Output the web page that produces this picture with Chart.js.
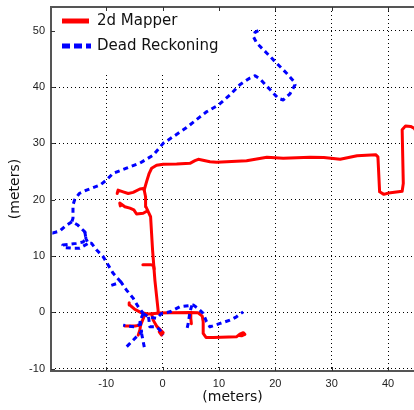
<!DOCTYPE html>
<html lang="en">
<head>
  <meta charset="UTF-8" />
  <title>2d Mapper vs Dead Reckoning</title>
  <script src="https://cdn.jsdelivr.net/npm/chart.js"></script>
  <style>
    html, body { margin: 0; padding: 0; background: #fff; }
    #wrap { width: 414px; height: 410px; position: relative; }
  </style>
</head>
<body>
  <div id="wrap"><canvas id="trackChart"></canvas></div>

  <script>
    // ==== DATA (meters) ====
    const xTicks = [-10, 0, 10, 20, 30, 40];
    const yTicks = [-10, 0, 10, 20, 30, 40, 50];

    // 2d Mapper path pieces
    const mapperEast = [[-0.8,-0.1],[1.3,-0.07],[4.9,0],[6.3,-0.07],[7.03,-0.66],[7.2,-1.67],[7.2,-3.73],[7.7,-4.44],[9.0,-4.44],[13.1,-4.33],[13.7,-3.85],[14.3,-3.6],[14.6,-3.9],[14.0,-4.15],[13.6,-4.1]];
    const mapperNorth = [[-0.8,-0.1],[-0.8,0.4],[-1.37,5.74],[-1.78,11.07],[-2.13,16.98],[-2.56,17.87],[-2.97,18.76],[-3.02,20.53],[-3.27,21.72],[-2.84,23.2],[-2.38,24.69],[-1.95,25.58],[-1.07,26.11],[0.11,26.29],[2.49,26.34],[4.85,26.46],[5.74,26.93],[6.33,27.17],[8.4,26.75],[9.6,26.64],[14.9,26.93],[18.5,27.53],[21.4,27.35],[26.2,27.53],[28.6,27.5],[31.5,27.17],[34.5,27.8],[37.8,28.0],[38.2,27.6],[38.5,21.4],[39.25,20.95],[40.1,21.2],[42.5,21.5],[42.7,22.9],[42.5,32.4],[43.1,33.1],[44.0,33.0],[44.6,32.7],[45.5,31.5]];
    const mapperUpperLoop = [[-3.27,21.72],[-3.44,22.0],[-4.03,21.9],[-5.22,21.3],[-6.1,21.1],[-7.0,21.4],[-7.9,21.7],[-8.06,21.1]];
    const mapperLowerLoop = [[-2.9,17.9],[-3.44,17.6],[-4.62,17.46],[-5.1,18.2],[-5.8,18.5],[-6.7,18.76],[-7.3,19.2],[-7.6,19.4],[-7.5,18.9]];
    const mapperStub = [[-3.5,8.45],[-2.0,8.45],[-1.6,8.3],[-1.5,7.7]];
    const mapperWest = [[-0.9,-0.15],[-2.56,-0.3],[-3.73,-0.07],[-4.92,0.53],[-5.81,1.3],[-5.93,1.7]];
    const mapperSouthWest = [[-3.14,-0.3],[-3.55,-1.37],[-3.91,-2.26],[-4.92,-2.43],[-6.7,-2.43]];
    const mapperSouthWest2 = [[-3.91,-2.26],[-4.03,-3.14],[-4.33,-4.03]];
    const mapperSouth = [[-1.95,-0.3],[-1.67,-1.37],[-1.07,-2.43],[-0.36,-3.14],[0.1,-3.6],[-0.18,-4.03],[-0.6,-3.44]];
    const mapperSpur = [[4.9,0],[5.0,-1.0],[5.1,-2.0]];

    // Dead Reckoning path pieces
    const deadMain = [[-9.1,4.8],[-8.2,5.1],[-7.4,5.4],[-6.4,3.96],[-5.2,2.49],[-4.33,1.0],[-3.44,-0.18]];
    const deadNorth = [[-7.4,5.4],[-8.77,6.93],[-9.66,8.4],[-10.55,9.9],[-11.7,11.07],[-12.6,12.25],[-13.2,12.25],[-13.6,13.1],[-13.8,14.3],[-15.05,15.5],[-16.1,16.1],[-15.9,16.7],[-15.9,19.06],[-15.6,20.0],[-14.8,21.1],[-13.5,21.7],[-11.1,22.6],[-9.95,23.5],[-8.77,24.7],[-6.4,25.6],[-4.03,26.5],[-1.67,27.9],[0.1,30.0],[1.9,31.2],[4.26,32.8],[6.63,34.7],[7.8,35.6],[9.9,36.8],[11.95,38.6],[13.7,40.4],[15.5,41.6],[16.4,42.0],[17.3,41.4],[19.1,39.5],[20.5,38.0],[21.4,37.7],[22.6,38.8],[23.5,40.4],[23.2,41.1],[22.0,42.45],[20.25,44.2],[18.5,46.0],[16.7,47.8],[16.1,48.95],[16.4,49.7],[17.0,50.0]];
    const deadWest = [[-16.1,16.1],[-17.4,15.2],[-18.3,14.4],[-19.5,14.1],[-20.5,14.2]];
    const deadLoop = [[-13.8,14.3],[-13.6,13.1],[-14.1,12.5],[-15.3,12.25],[-16.5,12.1],[-17.7,11.95],[-17.35,11.5],[-16.2,11.4],[-14.7,11.4],[-13.2,12.25]];
    const deadEast = [[-3.44,-0.18],[-2.5,-0.8],[-1.07,-1.07],[-0.18,-0.18],[1.3,0.1],[3.07,1.0],[5.44,1.3],[6.3,0.7],[7.2,-0.18],[7.8,-1.67],[8.4,-2.56],[10.2,-1.96],[11.95,-1.37],[13.1,-0.78],[14.3,0.1]];
    const deadSpur = [[5.2,1.25],[4.85,0.1],[4.55,-1.96],[4.3,-3.0]];
    const deadLeft = [[-3.44,-0.18],[-4.0,-1.5],[-4.0,-2.1],[-4.9,-2.56],[-6.1,-2.43],[-7.0,-2.26]];
    const deadSouthWest = [[-4.0,-1.5],[-3.73,-3.44],[-4.33,-4.03],[-5.2,-4.9],[-6.1,-5.8],[-6.4,-6.1]];
    const deadSouth = [[-3.73,-3.73],[-3.44,-5.2],[-3.14,-6.7]];
    const deadSouthEast = [[-2.5,-0.8],[-2.26,-2.56],[-1.07,-2.56],[-0.48,-3.14],[0.1,-4.03]];

    const mapperPieces = [mapperEast, mapperNorth, mapperUpperLoop, mapperLowerLoop, mapperStub, mapperWest, mapperSouthWest, mapperSouthWest2, mapperSouth, mapperSpur];
    const deadPieces = [deadMain, deadNorth, deadWest, deadLoop, deadEast, deadSpur, deadLeft, deadSouthWest, deadSouth, deadSouthEast];

    const legendLabels = ['2d Mapper', 'Dead Reckoning'];

    // ==== DATASETS ====
    const toPoints = (piece) => piece.map(([x, y]) => ({ x, y }));
    const datasets = [];
    deadPieces.forEach((piece) => {
      datasets.push({
        data: toPoints(piece),
        borderColor: '#0000ff',
        borderWidth: 3,
        borderDash: [5, 4],
        borderCapStyle: 'butt',
        borderJoinStyle: 'round',
        order: 0   // blue on top
      });
    });
    mapperPieces.forEach((piece) => {
      datasets.push({
        data: toPoints(piece),
        borderColor: '#ff0000',
        borderWidth: 3,
        borderCapStyle: 'round',
        borderJoinStyle: 'round',
        order: 1
      });
    });

    // ==== FRAME, TICKS AND LEGEND ====
    const framePlugin = {
      id: 'frame',
      afterDatasetsDraw(chart) {
        const { ctx, chartArea: a, scales } = chart;
        ctx.save();
        // legend box (hides grid behind it)
        ctx.fillStyle = '#fff';
        ctx.fillRect(a.left + 1, a.top + 1, 197, 66);
        ctx.lineWidth = 5;
        ctx.strokeStyle = '#ff0000';
        ctx.beginPath(); ctx.moveTo(62, 21); ctx.lineTo(89, 21); ctx.stroke();
        ctx.strokeStyle = '#0000ff';
        ctx.setLineDash([8, 4]);
        ctx.beginPath(); ctx.moveTo(62, 46); ctx.lineTo(91, 46); ctx.stroke();
        ctx.setLineDash([]);
        ctx.fillStyle = '#111';
        ctx.font = '15px "DejaVu Sans"';
        ctx.textBaseline = 'middle';
        ctx.fillText(legendLabels[0], 97, 21);
        ctx.fillText(legendLabels[1], 97, 46);

        // axis frame
        ctx.strokeStyle = '#555';
        ctx.lineWidth = 2;
        ctx.beginPath();
        ctx.moveTo(a.right + 5, a.top); ctx.lineTo(a.left, a.top);
        ctx.lineTo(a.left, a.bottom); ctx.lineTo(a.right + 5, a.bottom);
        ctx.stroke();

        // inside tick marks
        ctx.lineWidth = 1;
        ctx.strokeStyle = '#333';
        ctx.beginPath();
        xTicks.forEach((v) => {
          const px = Math.round(scales.x.getPixelForValue(v)) + 0.5;
          ctx.moveTo(px, a.bottom); ctx.lineTo(px, a.bottom - 4);
          ctx.moveTo(px, a.top); ctx.lineTo(px, a.top + 4);
        });
        yTicks.forEach((v) => {
          const py = Math.round(scales.y.getPixelForValue(v)) + 0.5;
          ctx.moveTo(a.left, py); ctx.lineTo(a.left + 4, py);
        });
        ctx.stroke();
        ctx.restore();
      }
    };

    const gridStyle = {
      color: '#000',
      lineWidth: 1,
      drawTicks: false
    };

    const ctx = document.getElementById('trackChart').getContext('2d');
    new Chart(ctx, {
      type: 'scatter',
      data: { datasets },
      options: {
        responsive: true,
        maintainAspectRatio: false,
        animation: false,
        showLine: true,
        elements: { point: { radius: 0, hoverRadius: 0 }, line: { tension: 0 } },
        layout: { padding: { top: 0, right: 0, left: 0, bottom: 0 } },
        plugins: { legend: { display: false }, tooltip: { enabled: false } },
        scales: {
          x: {
            type: 'linear',
            min: -19.8,
            max: 44.6,
            afterBuildTicks: (s) => { s.ticks = xTicks.map((v) => ({ value: v })); },
            afterFit: (s) => { s.height = 39; s.paddingLeft = 0; s.paddingRight = 0; },
            border: { display: false, dash: [1, 3] },
            grid: gridStyle,
            ticks: {
              padding: 6,
              color: '#222',
              font: { family: '"Liberation Sans", Arial, sans-serif', size: 11 }
            },
            title: {
              display: true,
              text: '(meters)',
              color: '#111',
              padding: { top: 0, bottom: 4 },
              font: { family: '"DejaVu Sans", sans-serif', size: 14 }
            }
          },
          y: {
            type: 'linear',
            min: -10.4,
            max: 54.2,
            afterBuildTicks: (s) => { s.ticks = yTicks.map((v) => ({ value: v })); },
            afterFit: (s) => { s.width = 51; s.paddingTop = 7; s.paddingBottom = 0; },
            border: { display: false, dash: [1, 3] },
            grid: gridStyle,
            ticks: {
              padding: 6,
              color: '#222',
              font: { family: '"Liberation Sans", Arial, sans-serif', size: 11 }
            },
            title: {
              display: true,
              text: '(meters)',
              color: '#111',
              padding: { top: 7, bottom: 0 },
              font: { family: '"DejaVu Sans", sans-serif', size: 14 }
            }
          }
        }
      },
      plugins: [framePlugin]
    });
  </script>
</body>
</html>
